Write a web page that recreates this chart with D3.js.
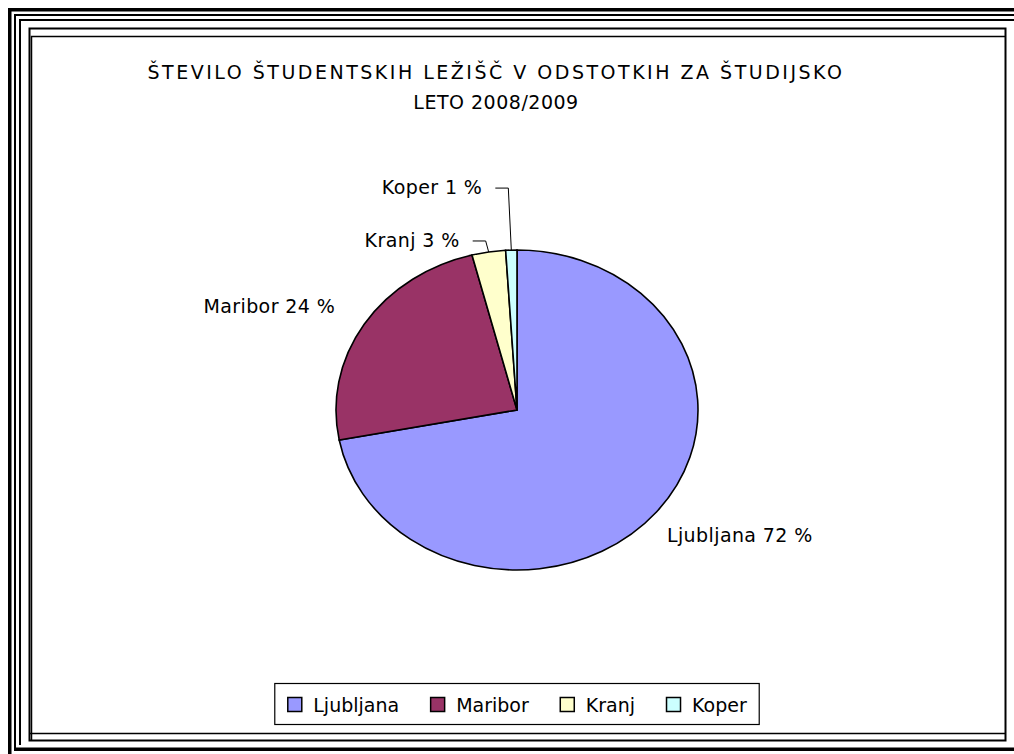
<!DOCTYPE html>
<html>
<head>
<meta charset="utf-8">
<script src="https://cdn.jsdelivr.net/npm/d3@7"></script>
<style>
  body { margin: 0; background: #fff; }
  svg { display: block; font-family: "Comic Sans MS", "DejaVu Sans", sans-serif; }
</style>
</head>
<body>
<svg></svg>
<script>
// studentski domovi - delez lezisc po mestih, 2008/2009

var titleLines = ['ŠTEVILO ŠTUDENTSKIH LEŽIŠČ V ODSTOTKIH ZA ŠTUDIJSKO', 'LETO 2008/2009'];
var cities = ['Ljubljana', 'Maribor', 'Kranj', 'Koper'];
var shares = [72, 24, 3, 1];
var colors = ['#9999ff', '#993366', '#ffffcc', '#ccffff'];

document.addEventListener('DOMContentLoaded', function() {

  var width = 1014;
  var height = 754;
  var svg = d3.select('svg')
                .attr('width', width)
                .attr('height', height);

  // page frame (word document borders)
  var frame = svg.append('g').attr('fill', 'none').attr('stroke', '#000');
  frame.append('path').attr('d', 'M9.75,754 V9.75 H1014').attr('stroke-width', 3.5);
  frame.append('path').attr('d', 'M15,751 V15 H1014').attr('stroke-width', 2);
  frame.append('path').attr('d', 'M14,749.25 H1014').attr('stroke-width', 3.5);
  frame.append('path').attr('d', 'M20,745 V20 H1014').attr('stroke-width', 2);
  frame.append('rect').attr('x', 29.5).attr('y', 28.5).attr('width', 976).attr('height', 712).attr('stroke-width', 2);
  frame.append('path').attr('d', 'M31.5,741 V36.5 H1005 M29,733.5 H1005').attr('stroke-width', 1.5);

  // title
  var titleSpacing = [2.5, 0.5];
  svg.append('g')
    .selectAll('text')
    .data(titleLines)
    .enter()
    .append('text')
      .attr('x', 496)
      .attr('y', (d, i) => 79 + i * 30)
      .attr('text-anchor', 'middle')
      .attr('font-size', 19)
      .attr('letter-spacing', (d, i) => titleSpacing[i])
      .text(d => d);

  // pie (ellipse via vertical scale)
  var cx = 517, cy = 410, rx = 181, ry = 160;
  var data = cities.map((c, i) => ({ city: c, share: shares[i], color: colors[i] }));

  var arcs = d3.pie()
    .value(d => d.share)
    .sort(null)
    (data);

  var path = d3.arc()
               .outerRadius(rx)
               .innerRadius(0);

  svg.append('g')
      .attr('transform', `translate(${cx}, ${cy}) scale(1, ${ry / rx})`)
    .selectAll('.arc')
    .data(arcs)
    .enter()
    .append('path')
      .classed('arc', true)
      .attr('d', path)
      .attr('fill', d => d.data.color)
      .attr('stroke', '#000')
      .attr('stroke-width', 1.6)
      .attr('vector-effect', 'non-scaling-stroke');

  // labels
  function edgePoint(a) {
    return [cx + rx * Math.sin(a), cy - ry * Math.cos(a)];
  }
  var labelDy = [30, -11, -5, -56];

  var labels = svg.append('g').attr('font-size', 19);
  arcs.forEach(function(d, i) {
    var mid = (d.startAngle + d.endAngle) / 2;
    var p = edgePoint(mid);
    var right = Math.sin(mid) > 0;
    var tx = right ? p[0] + 10.5 : p[0] - 29;
    var ty = p[1] + labelDy[i];
    labels.append('text')
        .attr('x', tx)
        .attr('y', ty)
        .attr('text-anchor', right ? 'start' : 'end')
        .attr('letter-spacing', 0.4)
        .text(`${d.data.city} ${d.data.share} %`);
    if (d.data.share < 5) {
      var ly = ty - 6;
      labels.append('path')
          .attr('d', `M${tx + 13},${ly} H${p[0] - 3} L${p[0]},${p[1]}`)
          .attr('fill', 'none')
          .attr('stroke', '#000')
          .attr('stroke-width', 1);
    }
  });

  // legend
  var legend = svg.append('g');
  var box = legend.append('rect')
      .attr('y', 683.5)
      .attr('height', 41)
      .attr('fill', '#fff')
      .attr('stroke', '#000')
      .attr('stroke-width', 1.2);
  var x = 0;
  var items = legend.append('g');
  data.forEach(function(d) {
    var g = items.append('g').attr('transform', `translate(${x}, 0)`);
    g.append('rect')
        .attr('x', 0.5)
        .attr('y', 697.5)
        .attr('width', 14)
        .attr('height', 14)
        .attr('fill', d.color)
        .attr('stroke', '#000')
        .attr('stroke-width', 1.5);
    var t = g.append('text')
        .attr('x', 26)
        .attr('y', 712)
        .attr('font-size', 19)
        .text(d.city);
    x += 26 + t.node().getComputedTextLength() + 31;
  });
  var w = x - 31;
  var left = 517 - w / 2;
  items.attr('transform', `translate(${left}, 0)`);
  box.attr('x', left - 12.5).attr('width', w + 25);

});
</script>
</body>
</html>
